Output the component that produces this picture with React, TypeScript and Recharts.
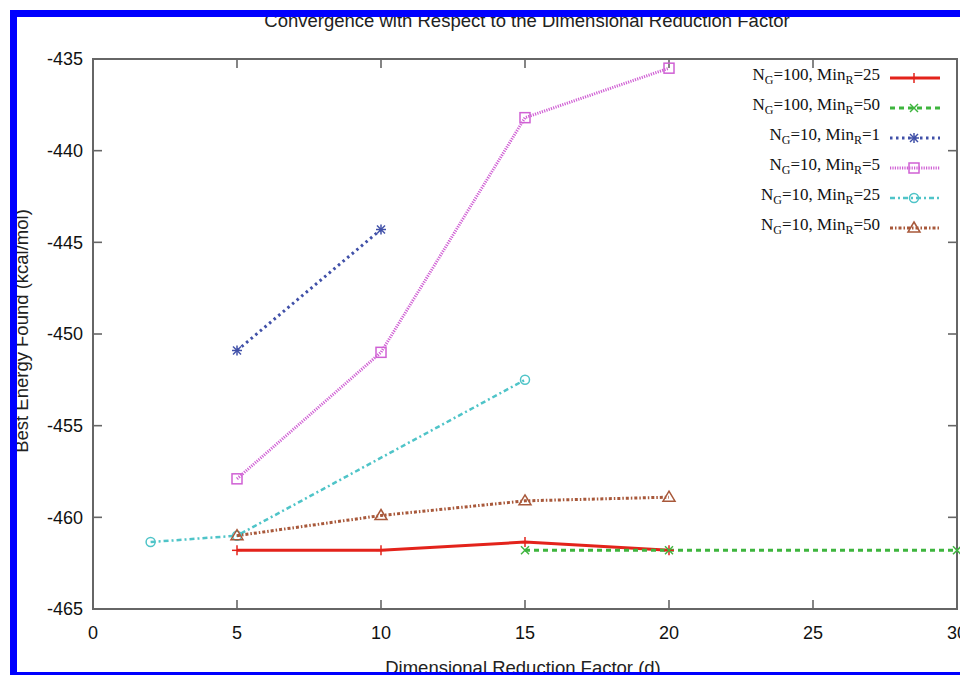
import { Legend, Line, LineChart, ReferenceArea, XAxis, YAxis } from "recharts";

const xTicks = [0, 5, 10, 15, 20, 25, 30];
const yTicks = [-465, -460, -455, -450, -445, -440, -435];

// legend labels: N_G and Min_R of each run
const ngValues = [100, 100, 10, 10, 10, 10];
const minRValues = [25, 50, 1, 5, 25, 50];

// dimensional reduction factor (d) of every point, per run
const dValues = [
  [5, 10, 15, 20],
  [15, 20, 30],
  [5, 10],
  [5, 10, 15, 20],
  [2, 5, 15],
  [5, 10, 15, 20],
];

// best energy found (kcal/mol), per run
const energyValues = [
  [-461.8, -461.8, -461.35, -461.8],
  [-461.8, -461.8, -461.8],
  [-450.9, -444.3],
  [-457.9, -451.0, -438.2, -435.5],
  [-461.35, -461.0, -452.5],
  [-461.0, -459.9, -459.1, -458.9],
];

type MarkerKind = "plus" | "cross" | "star" | "square" | "circle" | "triangle";

const seriesStyle: { color: string; dash?: string; width: number; marker: MarkerKind }[] = [
  { color: "#e3231b", width: 3, marker: "plus" },
  { color: "#3eb53e", dash: "5 4", width: 3, marker: "cross" },
  { color: "#4050a8", dash: "2.5 3.5", width: 3, marker: "star" },
  { color: "#d060d4", dash: "1.2 1.2", width: 3, marker: "square" },
  { color: "#4fc4c8", dash: "5 3 2 3", width: 2.5, marker: "circle" },
  { color: "#a8583a", dash: "3 2 1.5 2", width: 3, marker: "triangle" },
];

const seriesData = dValues.map((xs, i) => xs.map((d, j) => ({ d, energy: energyValues[i][j] })));

const X_MIN = 0;
const X_MAX = 30;
const Y_MIN = -465;
const Y_MAX = -435;

const FRAME = "#666";
const SANS = "'Liberation Sans', Arial, sans-serif";
const SERIF = "'Liberation Serif', 'Times New Roman', serif";

// plot box is 864 x 550 px; inward tick marks are ~9px long, ~1.6px thick
const PX_X = (X_MAX - X_MIN) / 864;
const PX_Y = (Y_MAX - Y_MIN) / 550;
const TICK_LEN_X = 9 * PX_X;
const TICK_LEN_Y = 9 * PX_Y;
const TICK_HALF_X = 0.8 * PX_X;
const TICK_HALF_Y = 0.8 * PX_Y;

function Marker({ kind, cx, cy, color }: { kind: MarkerKind; cx: number; cy: number; color: string }) {
  const s = 5;
  const common = { stroke: color, strokeWidth: 1.5, fill: "none" };
  switch (kind) {
    case "plus":
      return (
        <g {...common}>
          <line x1={cx - s} y1={cy} x2={cx + s} y2={cy} />
          <line x1={cx} y1={cy - s} x2={cx} y2={cy + s} />
        </g>
      );
    case "cross":
      return (
        <g {...common}>
          <line x1={cx - 4} y1={cy - 4} x2={cx + 4} y2={cy + 4} />
          <line x1={cx - 4} y1={cy + 4} x2={cx + 4} y2={cy - 4} />
        </g>
      );
    case "star":
      return (
        <g {...common}>
          <line x1={cx - s} y1={cy} x2={cx + s} y2={cy} />
          <line x1={cx} y1={cy - s} x2={cx} y2={cy + s} />
          <line x1={cx - 4} y1={cy - 4} x2={cx + 4} y2={cy + 4} />
          <line x1={cx - 4} y1={cy + 4} x2={cx + 4} y2={cy - 4} />
        </g>
      );
    case "square":
      return <rect x={cx - 5} y={cy - 5} width={10} height={10} {...common} />;
    case "circle":
      return <circle cx={cx} cy={cy} r={4.5} {...common} />;
    default:
      return <path d={`M${cx},${cy - 6}L${cx + 6},${cy + 4}L${cx - 6},${cy + 4}Z`} {...common} />;
  }
}

function KeyBox() {
  return (
    <div style={{ display: "flex", flexDirection: "column" }}>
      {seriesStyle.map((st, i) => (
        <div key={i} style={{ display: "flex", alignItems: "center", height: 30 }}>
          <span
            style={{
              width: 180,
              textAlign: "right",
              fontFamily: SERIF,
              fontSize: 17,
              color: "#111",
              lineHeight: "17px",
              whiteSpace: "nowrap",
            }}
          >
            N<sub style={{ fontSize: 12 }}>G</sub>={ngValues[i]}, Min<sub style={{ fontSize: 12 }}>R</sub>=
            {minRValues[i]}
          </span>
          <svg width={50} height={16} style={{ marginLeft: 10, overflow: "visible" }}>
            <line x1={0} y1={8} x2={50} y2={8} stroke={st.color} strokeWidth={st.width} strokeDasharray={st.dash} />
            <Marker kind={st.marker} cx={24} cy={8} color={st.color} />
          </svg>
        </div>
      ))}
    </div>
  );
}

const frameStroke = { stroke: FRAME, strokeWidth: 2 };

export default function App() {
  const innerX = xTicks.slice(1, -1);
  const innerY = yTicks.slice(1, -1);
  return (
    <div
      style={{
        position: "absolute",
        left: 0,
        top: 0,
        width: 960,
        height: 675,
        overflow: "hidden",
        background: "#fff",
      }}
    >
      <LineChart width={1000} height={675} margin={{ top: 59, right: 43, bottom: 36, left: 0 }}>
        <XAxis
          dataKey="d"
          type="number"
          domain={[X_MIN, X_MAX]}
          ticks={xTicks}
          height={30}
          tickSize={0}
          tickMargin={17}
          axisLine={frameStroke}
          tickLine={false}
          tick={{ fill: "#111", fontSize: 18, fontFamily: SANS }}
        />
        <YAxis
          type="number"
          domain={[Y_MIN, Y_MAX]}
          ticks={yTicks}
          width={93}
          tickSize={0}
          tickMargin={10}
          axisLine={frameStroke}
          tickLine={false}
          tick={{ fill: "#111", fontSize: 18, fontFamily: SANS }}
        />
        <ReferenceArea x1={X_MIN} x2={X_MAX} y1={Y_MIN} y2={Y_MAX} fill="none" {...frameStroke} />
        {innerX.map((t) => (
          <ReferenceArea
            key={`xb${t}`}
            x1={t - TICK_HALF_X}
            x2={t + TICK_HALF_X}
            y1={Y_MIN}
            y2={Y_MIN + TICK_LEN_Y}
            fill={FRAME}
            fillOpacity={1}
            stroke="none"
          />
        ))}
        {innerX.map((t) => (
          <ReferenceArea
            key={`xt${t}`}
            x1={t - TICK_HALF_X}
            x2={t + TICK_HALF_X}
            y1={Y_MAX - TICK_LEN_Y}
            y2={Y_MAX}
            fill={FRAME}
            fillOpacity={1}
            stroke="none"
          />
        ))}
        {innerY.map((t) => (
          <ReferenceArea
            key={`yl${t}`}
            x1={X_MIN}
            x2={X_MIN + TICK_LEN_X}
            y1={t - TICK_HALF_Y}
            y2={t + TICK_HALF_Y}
            fill={FRAME}
            fillOpacity={1}
            stroke="none"
          />
        ))}
        {innerY.map((t) => (
          <ReferenceArea
            key={`yr${t}`}
            x1={X_MAX - TICK_LEN_X}
            x2={X_MAX}
            y1={t - TICK_HALF_Y}
            y2={t + TICK_HALF_Y}
            fill={FRAME}
            fillOpacity={1}
            stroke="none"
          />
        ))}
        {seriesStyle.map((st, i) => (
          <Line
            key={i}
            data={seriesData[i]}
            dataKey="energy"
            name={`run${i}`}
            type="linear"
            stroke={st.color}
            strokeWidth={st.width}
            strokeDasharray={st.dash}
            isAnimationActive={false}
            dot={(p: any) => (
              <Marker key={`m${i}-${p.index}`} kind={st.marker} cx={p.cx} cy={p.cy} color={st.color} />
            )}
            activeDot={false}
          />
        ))}
        <Legend
          layout="vertical"
          align="center"
          verticalAlign="middle"
          content={() => <KeyBox />}
          wrapperStyle={{ left: 700, top: 63, width: 250, height: 180 }}
        />
      </LineChart>

      <svg
        width={960}
        height={675}
        style={{ position: "absolute", left: 0, top: 0, pointerEvents: "none" }}
      >
        <text x={527} y={27} textAnchor="middle" fontFamily={SANS} fontSize={18.5} fill="#222">
          Convergence with Respect to the Dimensional Reduction Factor
        </text>
        <text x={523} y={674} textAnchor="middle" fontFamily={SANS} fontSize={18.5} fill="#222">
          Dimensional Reduction Factor (d)
        </text>
        <text
          x={28}
          y={331}
          textAnchor="middle"
          fontFamily={SANS}
          fontSize={18.5}
          fill="#222"
          transform="rotate(-90 28 331)"
        >
          Best Energy Found (kcal/mol)
        </text>
        <rect x={10} y={10} width={7} height={665} fill="#0000ff" />
        <rect x={10} y={10} width={950} height={7} fill="#0000ff" />
        <rect x={10} y={672} width={950} height={3} fill="#0000ff" />
      </svg>
    </div>
  );
}
